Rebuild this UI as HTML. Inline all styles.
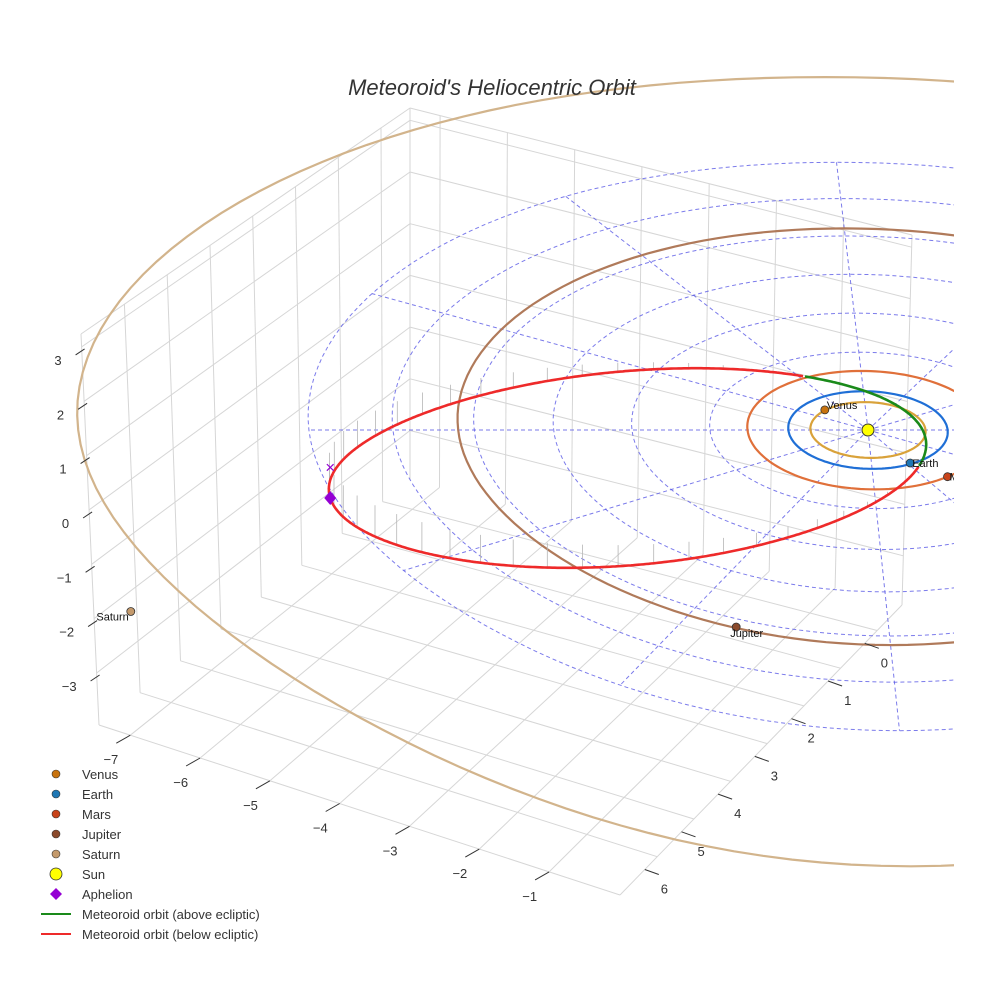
<!DOCTYPE html>
<html><head><meta charset="utf-8">
<style>
html,body{margin:0;padding:0;background:#fff;}
svg{display:block;font-family:"Liberation Sans",sans-serif;}
</style></head>
<body>
<svg id="chart" width="984" height="984" viewBox="0 0 984 984" xmlns="http://www.w3.org/2000/svg">
<defs><clipPath id="sc"><rect x="0" y="0" width="954" height="984"/></clipPath></defs>
<g id="box" stroke="#d6d6d6" stroke-width="1" fill="none"></g>
<g id="scene" clip-path="url(#sc)"></g>
<g id="axes" font-size="13" fill="#333"></g>
<text x="492" y="95" text-anchor="middle" font-size="22" font-style="italic" fill="#333">Meteoroid's Heliocentric Orbit</text>
<g id="legend" font-size="13" fill="#333"></g>
</svg>
<script>
// ---- data ----
const planetNames = ["Venus","Earth","Mars","Jupiter","Saturn"];
const planetRadii = [0.72,1.0,1.52,5.2,9.54];
const planetX = [-0.51,0.48,0.93,-1.94,-9.2];
const planetY = [-0.52,0.85,1.2,4.8,4.45];
const planetColors = ["#c8730e","#1f77b4","#c8431a","#8b4a2b","#c49a6c"];
const ringColors = ["#d9a23a","#1f6fd6","#e0703a","#b07a5a","#d2b48c"];
const gridRadii = [1,2,3,4,5,6,7];
const spokeAngles = [0,30,60,90,120,150,180,210,240,270,300,330];
const aphelionXY = [-6.8, 0.95];
const perihelionXY = [0.7, 0.2];
const orbitB = 2.3;
const ascNode = [-0.8, -1.5];
const descNode = [0.5, 0.8];
const tilt = 0.0366;
const zTicks = [3,2,1,0,-1,-2,-3];
const xTicks = [-7,-6,-5,-4,-3,-2,-1];
const yTicks = [0,1,2,3,4,5,6];

const NS="http://www.w3.org/2000/svg";
function mk(t,a,p){const e=document.createElementNS(NS,t);for(const k in a)e.setAttribute(k,a[k]);p.appendChild(e);return e;}
function kx(ax){return 80.5-1.0*ax+0.13*ax*ax;}
function sx(x,y){return 868+x*kx(Math.abs(x))+4.5*(y||0);}
function sy(y,z){const ay=Math.abs(y);return 430+y*(38.5+0.3*ay)+0.048*ay*ay*ay-50*(z||0);}
const scene=document.getElementById('scene');
const box=document.getElementById('box');
const axes=document.getElementById('axes');
function line(p,x1,y1,x2,y2,name){const l=mk('line',{x1:x1.toFixed(1),y1:y1.toFixed(1),x2:x2.toFixed(1),y2:y2.toFixed(1)},p);return l;}

// ---- box ----
const A=[99,725],B=[620,895],C=[902,605],D=[410,480],At=[81,334],Dt=[410,108],Ct=[912,235];
const lerp=(p,q,t)=>[p[0]+(q[0]-p[0])*t,p[1]+(q[1]-p[1])*t];
const bil=(p00,p10,p11,p01,u,v)=>lerp(lerp(p00,p10,u),lerp(p01,p11,u),v);
const uOf=x=>0.194+(x+6)*0.134;
const vOf=y=>0.088+(6-y)*0.13;
const wOf=z=>0.55+z*0.139;
xTicks.forEach(x=>{const u=uOf(x);const p=bil(A,B,C,D,u,0),q=bil(A,B,C,D,u,1);line(box,p[0],p[1],q[0],q[1],'floor-x-gridline');});
yTicks.forEach(y=>{const v=vOf(y);const p=bil(A,B,C,D,0,1-v),q=bil(A,B,C,D,1,1-v);line(box,p[0],p[1],q[0],q[1],'floor-y-gridline');});
yTicks.forEach(y=>{const v=1-vOf(y);const p=lerp(A,D,v),q=lerp(At,Dt,v);line(box,p[0],p[1],q[0],q[1],'left-wall-gridline');});
zTicks.forEach(z=>{const w=wOf(z);const p=lerp(A,At,w),q=lerp(D,Dt,w);line(box,p[0],p[1],q[0],q[1],'left-wall-z-gridline');});
xTicks.forEach(x=>{const u=uOf(x);const p=lerp(D,C,u),q=lerp(Dt,Ct,u);line(box,p[0],p[1],q[0],q[1],'back-wall-gridline');});
zTicks.forEach(z=>{const w=wOf(z);const p=lerp(D,Dt,w),q=lerp(C,Ct,w);line(box,p[0],p[1],q[0],q[1],'back-wall-z-gridline');});
line(box,A[0],A[1],B[0],B[1],'x-axis-line');line(box,B[0],B[1],C[0],C[1],'y-axis-line');line(box,A[0],A[1],At[0],At[1],'z-axis-line');
line(box,At[0],At[1],Dt[0],Dt[1],'box-top-edge');line(box,Dt[0],Dt[1],Ct[0],Ct[1],'box-top-edge');line(box,D[0],D[1],Dt[0],Dt[1],'box-corner-edge');line(box,C[0],C[1],Ct[0],Ct[1],'box-corner-edge');

// ---- axis ticks & labels ----
const neg=v=>v<0?'\u2212'+(-v):String(v);
zTicks.forEach(z=>{const p=lerp(A,At,wOf(z));line(axes,p[0]+3,p[1]+2,p[0]-6,p[1]+8,'z-tick').setAttribute('stroke','#333');
 const t=mk('text',{x:(p[0]-20).toFixed(1),y:(p[1]+18).toFixed(1),'text-anchor':'end'},axes);t.textContent=neg(z);});
xTicks.forEach(x=>{const p=lerp(A,B,uOf(x));line(axes,p[0],p[1],p[0]-14,p[1]+8,'x-tick').setAttribute('stroke','#333');
 const t=mk('text',{x:(p[0]-12).toFixed(1),y:(p[1]+29).toFixed(1),'text-anchor':'end'},axes);t.textContent=neg(x);});
yTicks.forEach(y=>{const p=lerp(B,C,vOf(y));line(axes,p[0],p[1],p[0]+14,p[1]+5,'y-tick').setAttribute('stroke','#333');
 const t=mk('text',{x:(p[0]+16).toFixed(1),y:(p[1]+24).toFixed(1)},axes);t.textContent=neg(y);});

// ---- polar grid ----
function ellPath(r){let d='';for(let k=0;k<=160;k++){const a=k/160*2*Math.PI;const x=r*Math.cos(a),y=r*Math.sin(a);d+=(k?'L':'M')+sx(x,y).toFixed(1)+','+sy(y).toFixed(1);}return d;}
gridRadii.forEach(r=>{const p=mk('path',{d:ellPath(r),fill:'none',stroke:'#5a5ae6','stroke-width':1,'stroke-dasharray':'4,3',opacity:0.8},scene);});
spokeAngles.forEach(a=>{const R=gridRadii[gridRadii.length-1];const th=a*Math.PI/180;const ex=R*Math.cos(th),ey=R*Math.sin(th);const p=mk('line',{x1:sx(0,0),y1:sy(0),x2:sx(ex,ey).toFixed(1),y2:sy(ey).toFixed(1),stroke:'#5a5ae6','stroke-width':1,'stroke-dasharray':'4,3',opacity:0.8},scene);});

// ---- planet orbits ----
planetRadii.forEach((r,i)=>{const p=mk('path',{d:ellPath(r),fill:'none',stroke:ringColors[i],'stroke-width':2.2},scene);});

// ---- meteoroid orbit ----
const cx0=(aphelionXY[0]+perihelionXY[0])/2, cy0=(aphelionXY[1]+perihelionXY[1])/2;
const ddx=perihelionXY[0]-aphelionXY[0], ddy=perihelionXY[1]-aphelionXY[1];
const aAx=Math.hypot(ddx,ddy)/2, ux=ddx/(2*aAx), uy=ddy/(2*aAx);
const nx=descNode[0]-ascNode[0], ny=descNode[1]-ascNode[1];
function zOf(x,y){return tilt*((x-descNode[0])*ny-(y-descNode[1])*nx);}
function orbitPt(E){const c=Math.cos(E),s=Math.sin(E);const x=cx0+ux*aAx*c-uy*orbitB*s,y=cy0+uy*aAx*c+ux*orbitB*s;return [x,y,zOf(x,y)];}
let dAbove='',dBelow='';let prev=null;
for(let k=0;k<=720;k++){const E=k/720*2*Math.PI;const [x,y,z]=orbitPt(E);const X=sx(x,y),Y=sy(y,z);
 const up=z>=0;const cmd=(prev===up?'L':'M')+X.toFixed(1)+','+Y.toFixed(1);if(up)dAbove+=cmd;else dBelow+=cmd;prev=up;
 if(k%14==0&&z<-0.04){const s=mk('line',{x1:X.toFixed(1),y1:Y.toFixed(1),x2:X.toFixed(1),y2:sy(y,0).toFixed(1),stroke:'#b5b5b5','stroke-width':0.8},scene);}
}
let pb=mk('path',{d:dBelow,fill:'none',stroke:'#ee2a2a','stroke-width':2.6},scene);
let pa=mk('path',{d:dAbove,fill:'none',stroke:'#1a8a1a','stroke-width':2.6},scene);

// aphelion
{const az=zOf(aphelionXY[0],aphelionXY[1]);const X=sx(aphelionXY[0],aphelionXY[1]),Y=sy(aphelionXY[1],az),Y0=sy(aphelionXY[1],0);
const x=mk('text',{x:X.toFixed(1),y:(Y0+6).toFixed(1),'text-anchor':'middle','font-size':17,fill:'#9400d3'},scene);x.textContent='\u00d7';
const d=mk('path',{d:`M${X},${Y-7}L${X+6},${Y}L${X},${Y+7}L${X-6},${Y}Z`,fill:'#9400d3'},scene);}

// sun
{const c=mk('circle',{cx:sx(0,0),cy:sy(0),r:6,fill:'#ffff00',stroke:'#333','stroke-width':1},scene);}

// planets
planetNames.forEach((n,i)=>{const X=sx(planetX[i],planetY[i]),Y=sy(planetY[i]);const c=mk('circle',{cx:X.toFixed(1),cy:Y.toFixed(1),r:4,fill:planetColors[i],stroke:'#333','stroke-width':0.8},scene);
 const t=mk('text',{x:(X+(i==4?-2:(i==3?-6:2))).toFixed(1),y:(Y+(i==0?-1:(i==3?10:(i==4?9:4)))).toFixed(1),'font-size':11,fill:'#111','text-anchor':(i==4?'end':'start')},scene);t.textContent=n;});

// ---- legend ----
const lg=document.getElementById('legend');
const items=[["Venus","c",planetColors[0]],["Earth","c",planetColors[1]],["Mars","c",planetColors[2]],["Jupiter","c",planetColors[3]],["Saturn","c",planetColors[4]],["Sun","s","#ffff00"],["Aphelion","d","#9400d3"],["Meteoroid orbit (above ecliptic)","l","#1a8a1a"],["Meteoroid orbit (below ecliptic)","l","#ee2a2a"]];
items.forEach((it,i)=>{const y=774+i*20;const g=mk('g',{},lg);
 if(it[1]=='c')mk('circle',{cx:56,cy:y,r:4,fill:it[2],stroke:'#333','stroke-width':0.6},g);
 if(it[1]=='s')mk('circle',{cx:56,cy:y,r:6,fill:it[2],stroke:'#333','stroke-width':0.8},g);
 if(it[1]=='d')mk('path',{d:`M56,${y-6}L62,${y}L56,${y+6}L50,${y}Z`,fill:it[2]},g);
 if(it[1]=='l')mk('line',{x1:41,y1:y,x2:71,y2:y,stroke:it[2],'stroke-width':2},g);
 const t=mk('text',{x:82,y:y+5},g);t.textContent=it[0];});
</script>
</body></html>
